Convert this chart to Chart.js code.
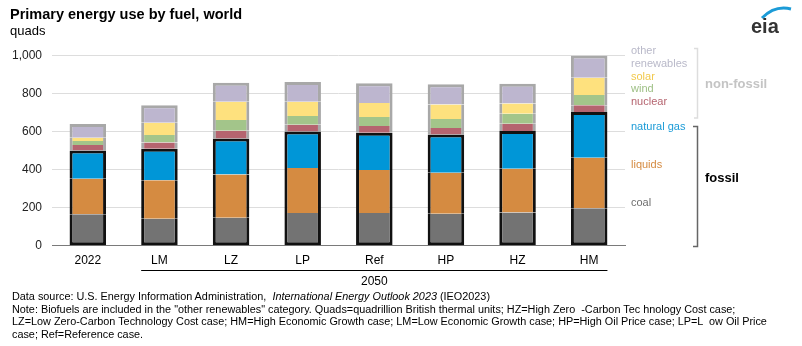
<!DOCTYPE html>
<html>
<head>
<meta charset="utf-8">
<script src="https://cdn.jsdelivr.net/npm/chart.js@4.4.1/dist/chart.umd.min.js"></script>
<style>
  body { margin: 0; background: #fff; font-family: "Liberation Sans", Arial, sans-serif; }
  #wrap { position: relative; width: 802px; height: 346px; overflow: hidden; }
  #myChart { position: absolute; left: 0; top: 0; }
  .title { position: absolute; left: 10px; top: 6px; font-size: 14.5px; font-weight: bold; color: #000; }
  .unit { position: absolute; left: 10px; top: 23px; font-size: 13px; color: #000; }
  .notes { position: absolute; left: 12px; top: 290px; font-size: 10.85px; line-height: 12.6px; color: #000; white-space: pre; }
  .logo { position: absolute; left: 745px; top: 1px; }
</style>
</head>
<body>
<div id="wrap">
  <canvas id="myChart" width="802" height="346"></canvas>
  <div class="title">Primary energy use by fuel, world</div>
  <div class="unit">quads</div>
  <svg class="logo" width="52" height="38" viewBox="0 0 52 38">
    <path d="M17 17 Q30 4 46 8" stroke="#1b9bd7" stroke-width="3" fill="none"/>
    <text x="6" y="32" font-family="Liberation Sans, Arial, sans-serif" font-size="20" font-weight="bold" fill="#333">eia</text>
  </svg>
  <div class="notes">Data source: U.S. Energy Information Administration,  <i>International Energy Outlook 2023</i> (IEO2023)
Note: Biofuels are included in the "other renewables" category. Quads=quadrillion British thermal units; HZ=High Zero  -Carbon Tec hnology Cost case;
LZ=Low Zero-Carbon Technology Cost case; HM=High Economic Growth case; LM=Low Economic Growth case; HP=High Oil Price case; LP=L  ow Oil Price
case; Ref=Reference case.</div>
</div>
<script>
  // カテゴリ
  const labels = ["2022", "LM", "LZ", "LP", "Ref", "HP", "HZ", "HM"];
  const yTicks = [0, 200, 400, 600, 800, 1000];

  // 値（quads）
  const coal = [165, 142, 147, 172, 172, 168, 174, 197];
  const liquids = [187, 202, 228, 236, 226, 216, 231, 266];
  const naturalGas = [149, 166, 188, 193, 196, 200, 198, 240];
  const nuclear = [29, 32, 42, 35, 35, 35, 38, 35];
  const wind = [20, 40, 56, 46, 48, 47, 53, 54];
  const solar = [18, 65, 96, 75, 73, 77, 53, 91];
  const otherRenewables = [72, 91, 100, 104, 104, 106, 105, 117];

  const black = "#111111";
  const gray = "#a8a8a8";
  const bw = 3;

  function seg(label, data, color, edge, pos) {
    // pos: "bottom" | "middle" | "top" で枠線の位置を決める
    return {
      label: label,
      data: data,
      backgroundColor: color,
      borderColor: edge,
      borderSkipped: false,
      borderWidth: {
        left: bw,
        right: bw,
        top: pos === "top" ? bw : 0,
        bottom: pos === "bottom" ? bw : 0,
      },
    };
  }

  const data = {
    labels: labels,
    datasets: [
      seg("coal", coal, "#737373", black, "bottom"),
      seg("liquids", liquids, "#d58b41", black, "middle"),
      seg("natural gas", naturalGas, "#0096d7", black, "top"),
      seg("nuclear", nuclear, "#b5646f", gray, "middle"),
      seg("wind", wind, "#a3c58a", gray, "middle"),
      seg("solar", solar, "#fee17e", gray, "middle"),
      seg("other renewables", otherRenewables, "#bdb6cf", gray, "top"),
    ],
  };

  // 右側のラベルと括弧、2050 の線
  const extras = {
    id: "extras",
    afterDraw(chart) {
      const c = chart.ctx;
      c.save();
      c.font = "11px 'Liberation Sans', Arial, sans-serif";
      c.textBaseline = "middle";
      c.textAlign = "left";
      const side = [
        ["other", 51, "#b9b9c9"],
        ["renewables", 64, "#b9b9c9"],
        ["solar", 77, "#f2c94c"],
        ["wind", 89, "#9dbf84"],
        ["nuclear", 102, "#b5646f"],
        ["natural gas", 127, "#1b9bd7"],
        ["liquids", 165, "#d58b41"],
        ["coal", 203, "#6f6f6f"],
      ];
      side.forEach(function (s) {
        c.fillStyle = s[2];
        c.fillText(s[0], 631, s[1]);
      });

      // 括弧
      c.lineWidth = 1.5;
      c.strokeStyle = "#dddddd";
      c.beginPath();
      c.moveTo(694, 48.5); c.lineTo(697.5, 48.5); c.lineTo(697.5, 118); c.lineTo(694, 118);
      c.stroke();
      c.strokeStyle = "#666666";
      c.beginPath();
      c.moveTo(693, 126.5); c.lineTo(697.5, 126.5); c.lineTo(697.5, 246.5); c.lineTo(693, 246.5);
      c.stroke();

      c.font = "bold 13px 'Liberation Sans', Arial, sans-serif";
      c.fillStyle = "#c4c4c4";
      c.fillText("non-fossil", 705, 84);
      c.fillStyle = "#000";
      c.fillText("fossil", 705, 178);

      // 2050 の線
      const meta = chart.getDatasetMeta(0);
      const x1 = meta.data[1].x - meta.data[1].width / 2;
      const x2 = meta.data[7].x + meta.data[7].width / 2;
      c.strokeStyle = "#000";
      c.lineWidth = 1;
      c.beginPath();
      c.moveTo(x1, 270.5);
      c.lineTo(x2, 270.5);
      c.stroke();
      c.font = "12px 'Liberation Sans', Arial, sans-serif";
      c.textAlign = "center";
      c.fillStyle = "#000";
      c.fillText("2050", (x1 + x2) / 2, 282);
      c.restore();
    },
  };

  const options = {
    responsive: false,
    animation: false,
    events: [],
    layout: { padding: { top: 55.5, right: 177, left: 0, bottom: 0 } },
    datasets: { bar: { barPercentage: 0.51, categoryPercentage: 1 } },
    plugins: { legend: { display: false }, tooltip: { enabled: false } },
    scales: {
      x: {
        stacked: true,
        afterFit: function (s) { s.height = 100.3; },
        grid: { display: false, drawTicks: false },
        border: { display: true, color: "#7a7a7a", width: 1 },
        ticks: {
          padding: 8,
          color: "#000",
          font: { family: "'Liberation Sans', Arial, sans-serif", size: 12 },
        },
      },
      y: {
        stacked: true,
        min: 0,
        max: 1000,
        afterFit: function (s) { s.width = 52; },
        afterBuildTicks: function (s) { s.ticks = yTicks.map(function (v) { return { value: v }; }); },
        grid: {
          drawTicks: false,
          color: function (ctx) { return ctx.tick && ctx.tick.value === 0 ? "rgba(0,0,0,0)" : "#dddddd"; },
        },
        border: { display: false },
        ticks: {
          padding: 10,
          color: "#222",
          font: { family: "'Liberation Sans', Arial, sans-serif", size: 12 },
          callback: function (value) { return value.toLocaleString("en-US"); },
        },
      },
    },
  };

  const ctx = document.getElementById("myChart").getContext("2d");
  const myChart = new Chart(ctx, {
    type: "bar",
    data: data,
    options: options,
    plugins: [extras],
  });
</script>
</body>
</html>
